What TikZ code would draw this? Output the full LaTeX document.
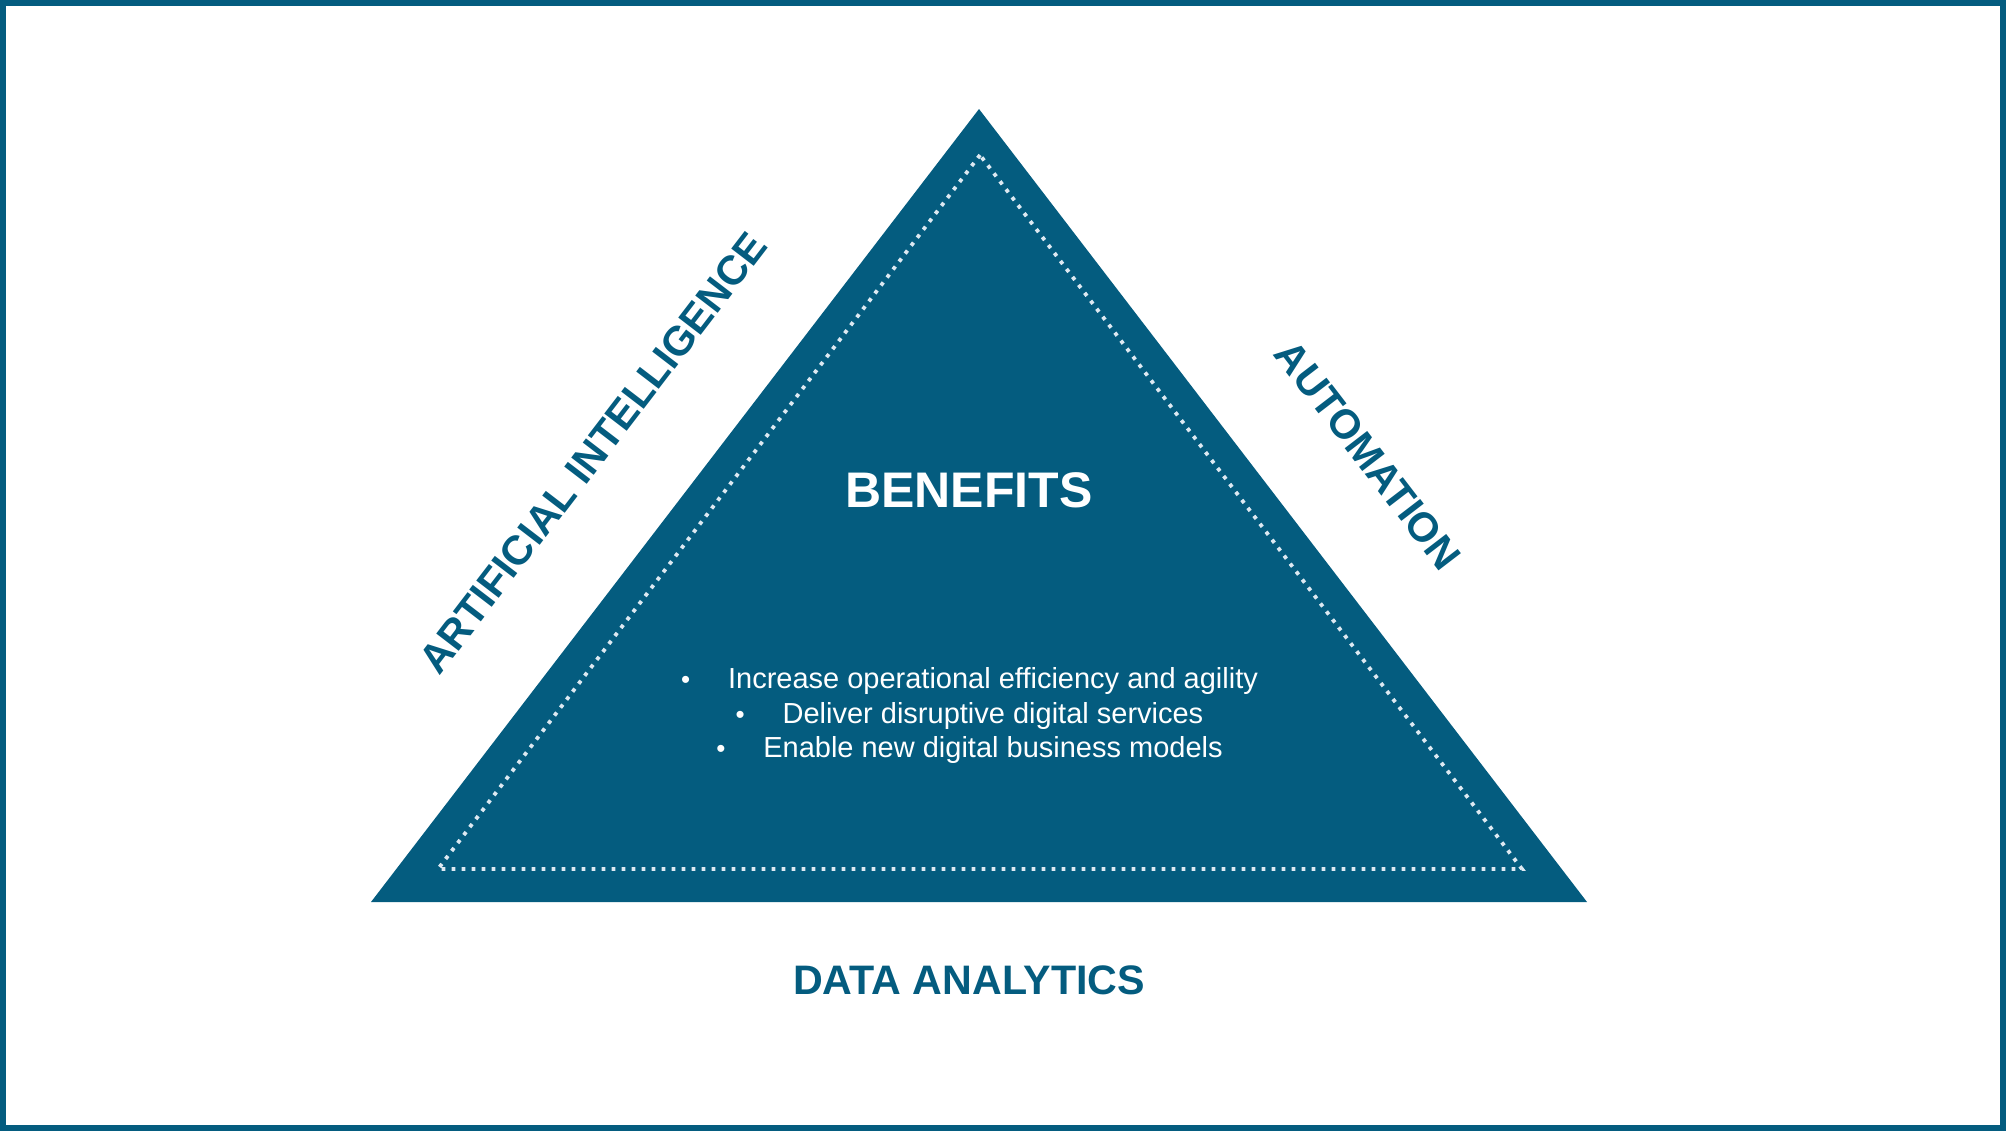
\documentclass[tikz,border=0pt]{standalone}
\usepackage{fontspec}
\setmainfont{Liberation Sans}
\usepackage{xcolor}
\usetikzlibrary{calc}
\definecolor{tblue}{HTML}{045C7F}
\definecolor{tdot}{HTML}{DDE9F2}

\begin{document}
\begin{tikzpicture}[x=0.5pt, y=-0.5pt,
  sidelabel/.style={text=tblue, inner sep=0pt, font=\fontsize{20.6}{24}\selectfont\bfseries},
  itemtext/.style={text=white, inner sep=0pt, anchor=mid, font=\fontsize{14.5}{17}\selectfont},
  itemdot/.style={text=white, inner sep=0pt, anchor=base, font=\fontsize{13}{17}\selectfont}]
  \useasboundingbox (0,0) rectangle (2006,1131);
  % frame
  \draw[tblue, line width=3pt] (3,3) rectangle (2003,1128);
  % triangle
  \coordinate (apex) at (979,109);
  \coordinate (bl) at (371,902);
  \coordinate (br) at (1587,902);
  \fill[tblue] (apex) -- (bl) -- (br) -- cycle;
  \coordinate (iapex) at (980,155);
  \coordinate (ibl) at (438,869);
  \coordinate (ibr) at (1522,869);
  \draw[tdot, line width=1.9pt, dash pattern=on 1.9pt off 3.1pt] (iapex) -- (ibl) -- (ibr) -- cycle;
  % texts
  \node[text=white, inner sep=0pt, font=\fontsize{25}{30}\selectfont\bfseries] (benefits) at (969,490) {BENEFITS};
  \node[itemtext] (l1) at (993,683) {Increase operational efficiency and agility};
  \node[itemtext] (l2) at (993,718) {Deliver disruptive digital services};
  \node[itemtext] (l3) at (993,752) {Enable new digital business models};
  \node[itemdot] (d1) at ([xshift=-21pt] l1.base west) {\textbullet};
  \node[itemdot] (d2) at ([xshift=-21pt] l2.base west) {\textbullet};
  \node[itemdot] (d3) at ([xshift=-21pt] l3.base west) {\textbullet};
  \node[sidelabel, rotate=52.5] (ai) at (593,453) {ARTIFICIAL INTELLIGENCE};
  \node[sidelabel, rotate=-52.5] (auto) at (1368,455) {AUTOMATION};
  \node[sidelabel] (data) at (969,980) {DATA ANALYTICS};
\end{tikzpicture}
\end{document}
